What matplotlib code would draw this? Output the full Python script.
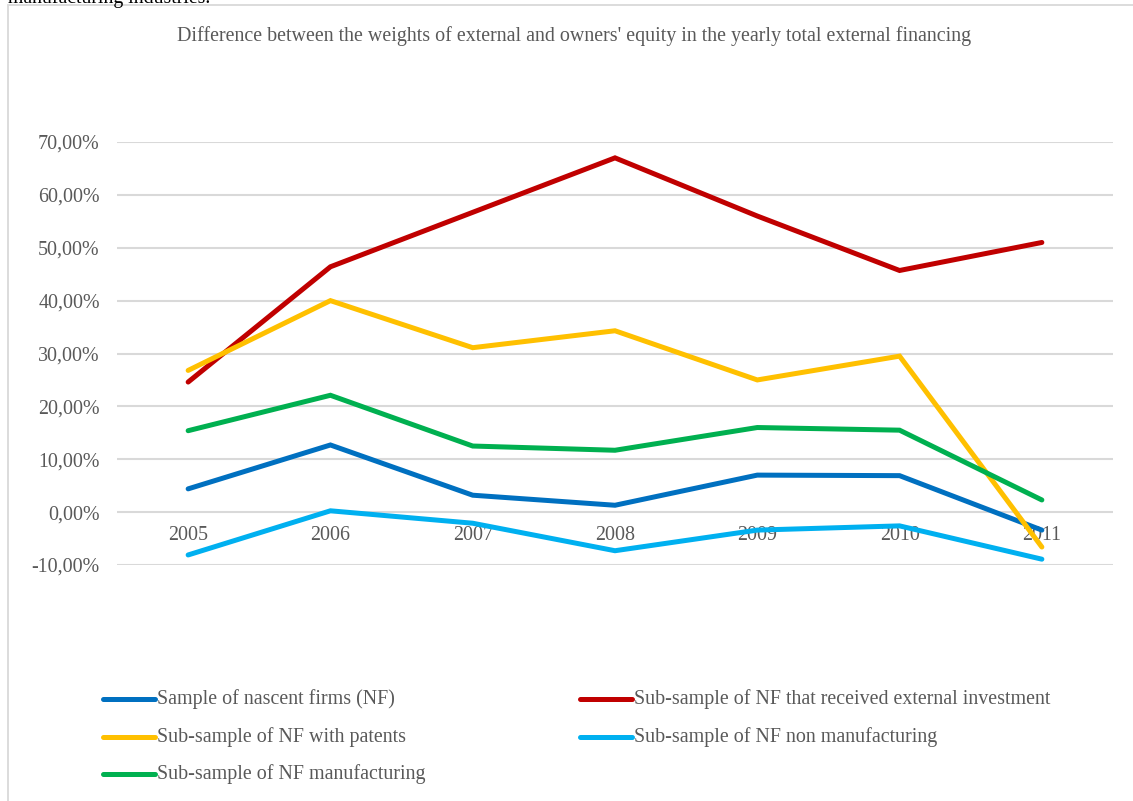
import matplotlib
matplotlib.use("Agg")
import matplotlib.pyplot as plt
from matplotlib.patches import Rectangle
from matplotlib.lines import Line2D

plt.rcParams["font.family"] = ["Liberation Serif", "DejaVu Serif"]

# Data (fractions of yearly total external financing)
years = ["2005", "2006", "2007", "2008", "2009", "2010", "2011"]
nascent_firms = [0.044, 0.127, 0.032, 0.013, 0.070, 0.069, -0.034]
external_investment = [0.246, 0.464, 0.567, 0.670, 0.560, 0.457, 0.510]
with_patents = [0.268, 0.400, 0.311, 0.343, 0.250, 0.295, -0.066]
non_manufacturing = [-0.081, 0.0025, -0.021, -0.073, -0.034, -0.026, -0.089]
manufacturing = [0.154, 0.221, 0.125, 0.117, 0.160, 0.155, 0.023]

series_labels = [
    "Sample of nascent firms (NF)",
    "Sub-sample of NF that received external investment",
    "Sub-sample of NF with patents",
    "Sub-sample of NF non manufacturing",
    "Sub-sample of NF manufacturing",
]
series_values = [nascent_firms, external_investment, with_patents,
                 non_manufacturing, manufacturing]
series_colors = ["#0070C0", "#C00000", "#FFC000", "#00B0F0", "#00B050"]
y_ticks = [-0.10, 0.0, 0.10, 0.20, 0.30, 0.40, 0.50, 0.60, 0.70]

W, H = 1133, 801
fig = plt.figure(figsize=(W / 100, H / 100), dpi=100)
fig.patch.set_facecolor("white")

text_gray = "#595959"
grid_gray = "#D9D9D9"

# Chart frame
fig.add_artist(Rectangle((8 / W, -0.02), 1.1, (H - 5) / H + 0.02,
                         transform=fig.transFigure, fill=False,
                         edgecolor=grid_gray, linewidth=1.3))

# Surrounding document text, clipped by the top edge
fig.text(8 / W, 1 - 3 / H, "manufacturing industries.", fontsize=14.2,
         color="black", ha="left", va="baseline")

# Title
fig.text(574 / W, 1 - 36 / H,
         "Difference between the weights of external and owners' equity in the yearly total external financing",
         fontsize=14.4, color=text_gray, ha="center", va="center")

left, right, top, bottom = 117, 1113, 142, 565
ax = fig.add_axes([left / W, 1 - bottom / H, (right - left) / W, (bottom - top) / H])
ax.set_xlim(-0.5, len(years) - 0.5)
ax.set_ylim(-0.10, 0.70)
for s in ax.spines.values():
    s.set_visible(False)
ax.set_yticks(y_ticks)
ax.set_yticklabels([f"{v * 100:.2f}%".replace(".", ",") for v in y_ticks],
                   fontsize=14.4, color=text_gray)
ax.tick_params(axis="y", length=0, pad=12.5)
ax.set_xticks([])
ax.grid(axis="y", color=grid_gray, linewidth=1.5)
ax.set_axisbelow(True)

# Category labels sit just below the zero line
for i, yr in enumerate(years):
    ax.annotate(yr, (i, 0), xytext=(0, -16.5), textcoords="offset points",
                ha="center", va="center", fontsize=14.4, color=text_gray,
                zorder=1)

x = list(range(len(years)))
for vals, col in zip(series_values, series_colors):
    ax.plot(x, vals, color=col, linewidth=3.6, solid_capstyle="round",
            solid_joinstyle="miter", zorder=3)

# Legend
rows = [699, 737, 774]
positions = [(103, rows[0]), (580, rows[0]), (103, rows[1]), (580, rows[1]),
             (103, rows[2])]
for (px, py), lab, col in zip(positions, series_labels, series_colors):
    yy = 1 - py / H
    fig.add_artist(Line2D([px / W, (px + 52) / W], [yy, yy],
                          transform=fig.transFigure, color=col,
                          linewidth=3.6, solid_capstyle="round"))
    fig.text((px + 54) / W, yy, lab, fontsize=14.4, color=text_gray,
             ha="left", va="center")

fig.savefig("out.png", dpi=100)
